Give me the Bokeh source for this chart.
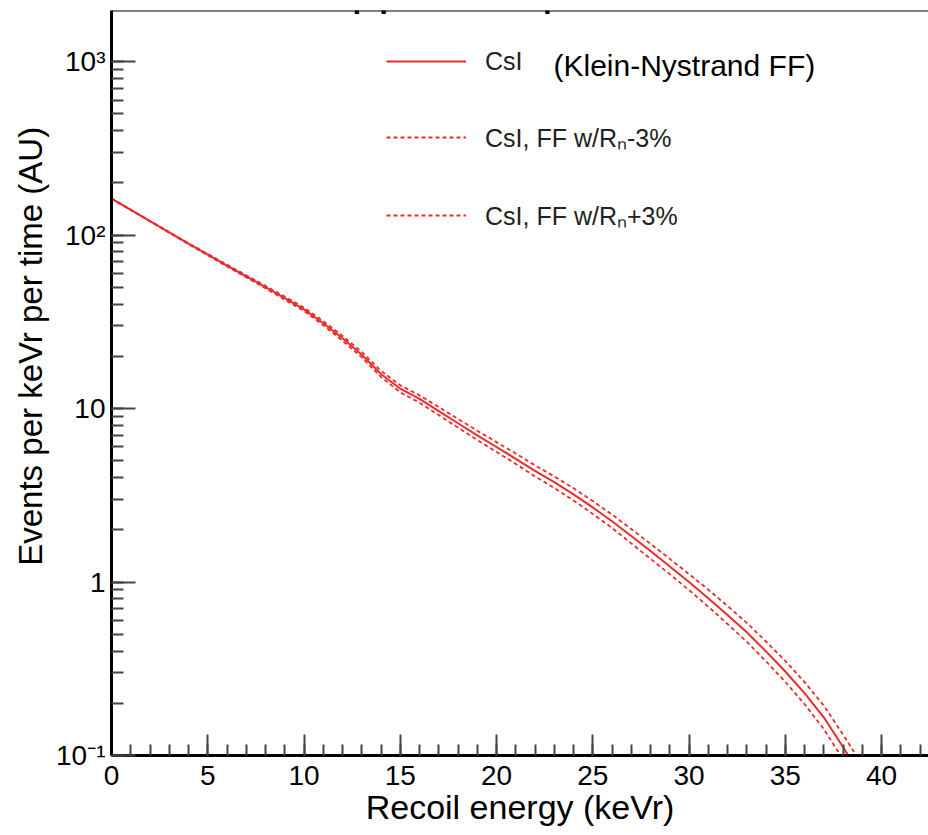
import math
from bokeh.plotting import figure
from bokeh.models import (Range1d, SingleIntervalTicker, LogTicker, CustomJSTickFormatter,
                          Label, Span, Legend, LegendItem)
from bokeh.embed import file_html
from bokeh.resources import INLINE

# ---------------- data ----------------
energy_nominal = [0, 1, 2, 3, 4, 5, 6, 7, 8, 9, 10, 11, 12, 13, 14, 15, 16, 17, 18, 19,
                  20, 21, 22, 23, 24, 25, 26, 27, 28, 29, 30, 31, 32, 33, 34, 35, 36, 37, 38, 38.5]
csi_nominal = [162.2, 139.6, 120.2, 103.5, 89.1, 77.1, 66.7, 57.8, 50.1, 43.3,
               37.3, 31.0, 25.4, 20.4, 15.8, 13.0, 11.35, 9.66, 8.22, 7.00,
               6.00, 5.13, 4.37, 3.76, 3.20, 2.69, 2.24, 1.84, 1.51, 1.23,
               1.00, 0.807, 0.646, 0.513, 0.398, 0.305, 0.229, 0.166, 0.112, 0.091]

energy_minus = [0, 1, 2, 3, 4, 5, 6, 7, 8, 9, 10, 11, 12, 13, 14, 15, 16, 17, 18, 19,
                20, 21, 22, 23, 24, 25, 26, 27, 28, 29, 30, 31, 32, 33, 34, 35, 36, 37, 38, 38.5, 39]
csi_rn_minus3 = [162.2, 139.7, 120.5, 104.0, 89.7, 77.8, 67.5, 58.6, 50.9, 44.2,
                 38.2, 31.9, 26.2, 21.2, 16.5, 13.6, 11.9, 10.2, 8.71, 7.45,
                 6.40, 5.50, 4.70, 4.06, 3.47, 2.93, 2.45, 2.02, 1.66, 1.36,
                 1.11, 0.904, 0.728, 0.581, 0.454, 0.351, 0.265, 0.194, 0.132, 0.108, 0.086]

energy_plus = [0, 1, 2, 3, 4, 5, 6, 7, 8, 9, 10, 11, 12, 13, 14, 15, 16, 17, 18, 19,
               20, 21, 22, 23, 24, 25, 26, 27, 28, 29, 30, 31, 32, 33, 34, 35, 36, 37, 38]
csi_rn_plus3 = [162.2, 139.5, 120.0, 103.0, 88.5, 76.4, 65.9, 57.0, 49.3, 42.4,
                36.5, 30.2, 24.6, 19.7, 15.2, 12.4, 10.8, 9.16, 7.76, 6.58,
                5.62, 4.79, 4.06, 3.48, 2.95, 2.47, 2.05, 1.67, 1.36, 1.11,
                0.898, 0.721, 0.573, 0.453, 0.349, 0.266, 0.198, 0.142, 0.095]

x_ticks_interval = 5
title_text = "Stopped π spectrum"
x_label = "Recoil energy (keVr)"
y_label = "Events per keVr per time (AU)"
legend_labels = ["CsI", "CsI, FF w/Rₙ-3%", "CsI, FF w/Rₙ+3%"]
ff_note = "(Klein-Nystrand FF)"

# ---------------- layout ----------------
W, H = 928, 835
LEFT, TOP, BOTTOM, RIGHT = 111, 10, 80, 0
X0, X1 = 0.0, 42.44
Y0, Y1 = 0.1, 1968.0
FW = W - LEFT - RIGHT
FH = H - TOP - BOTTOM

def px_x(px):
    return X0 + (px - LEFT) / FW * (X1 - X0)

def px_y(py):
    l0, l1 = math.log10(Y0), math.log10(Y1)
    return 10 ** (l1 - (py - TOP) / FH * (l1 - l0))

FONT = "Liberation Sans"
RED = "#ec2b2b"

p = figure(width=W, height=H, y_axis_type="log",
           x_range=Range1d(X0, X1), y_range=Range1d(Y0, Y1),
           output_backend="svg", toolbar_location=None,
           min_border_left=LEFT, min_border_right=RIGHT,
           min_border_top=TOP, min_border_bottom=BOTTOM)
p.outline_line_color = None
p.grid.visible = False
p.background_fill_color = "white"
p.border_fill_color = "white"

r_nom = p.line(energy_nominal, csi_nominal, line_color=RED, line_width=2)
r_minus = p.line(energy_minus, csi_rn_minus3, line_color=RED, line_width=1.8, line_dash="4 3")
r_plus = p.line(energy_plus, csi_rn_plus3, line_color=RED, line_width=1.8, line_dash="4 3")

# axes
for ax in (p.xaxis[0], p.yaxis[0]):
    ax.axis_line_color = "black"
    ax.axis_line_width = 3
    ax.major_tick_line_color = "#444444"
    ax.minor_tick_line_color = "#444444"
    ax.major_tick_line_width = 2
    ax.minor_tick_line_width = 2
    ax.major_tick_out = 0
    ax.minor_tick_out = 0
    ax.major_label_text_font = FONT
    ax.major_label_text_font_size = "28px"
    ax.major_label_text_color = "black"
    ax.axis_label_text_font = FONT
    ax.axis_label_text_font_style = "normal"
    ax.axis_label_text_color = "black"

p.xaxis.ticker = SingleIntervalTicker(interval=x_ticks_interval, num_minor_ticks=5)
p.xaxis.major_tick_in = 21
p.xaxis.minor_tick_in = 11
p.xaxis.major_label_standoff = 10
p.xaxis.axis_label = x_label
p.xaxis.axis_label_text_font_size = "34px"
p.xaxis.axis_label_standoff = 0

p.yaxis.ticker = LogTicker(num_minor_ticks=10)
p.yaxis.major_tick_in = 24
p.yaxis.minor_tick_in = 12
p.yaxis.major_label_standoff = 6
p.yaxis.formatter = CustomJSTickFormatter(code="""
const e = Math.round(Math.log10(tick));
const sup = {"-1": "\u207b\u00b9", "2": "\u00b2", "3": "\u00b3", "4": "\u2074"};
if (e == 0) return "1";
if (e == 1) return "10";
return "10" + sup[String(e)];
""")
# leading no-break spaces shift the centred title up the axis, as in the reference
p.yaxis.axis_label = "\u00a0" * 8 + y_label
p.yaxis.axis_label_text_font_size = "33px"
p.yaxis.axis_label_standoff = 4

# top frame line
p.add_layout(Span(location=Y1, dimension="width", line_color="black", line_width=2))

# legend
legend = Legend(items=[LegendItem(label=legend_labels[0], renderers=[r_nom]),
                       LegendItem(label=legend_labels[1], renderers=[r_minus]),
                       LegendItem(label=legend_labels[2], renderers=[r_plus])],
                location=(275, 523), orientation="vertical",
                glyph_width=80, glyph_height=30, label_height=30, label_standoff=19,
                spacing=44, padding=0, margin=0,
                border_line_color=None, background_fill_alpha=0,
                label_text_font=FONT, label_text_font_size="25px", label_text_color="#222222")
p.add_layout(legend)

p.add_layout(Label(x=px_x(553), y=px_y(65), text=ff_note, text_font=FONT,
                   text_font_size="30px", text_color="black", text_baseline="alphabetic"))

# title (cut off at the top of the page, as in the reference)
p.add_layout(Label(x=px_x(497), y=px_y(-13), text=title_text, text_font=FONT,
                   text_font_size="48px", text_color="black", text_align="center",
                   text_baseline="alphabetic"))

with open("out.html", "w", encoding="utf-8") as f:
    f.write(file_html(p, INLINE))
